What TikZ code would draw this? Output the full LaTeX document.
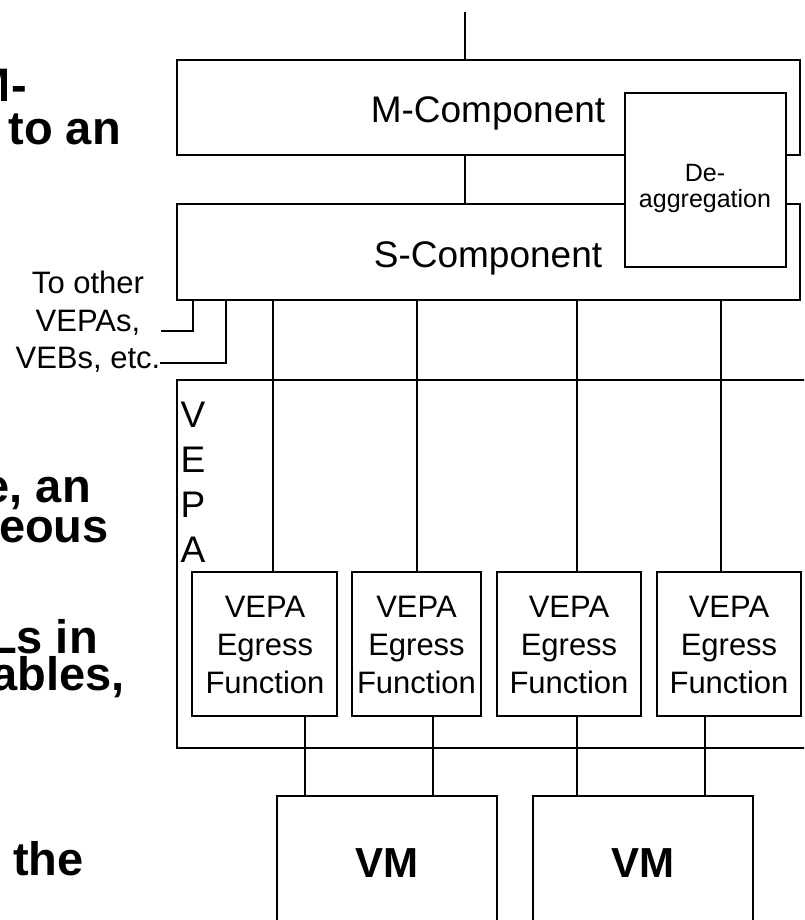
\documentclass[tikz,border=0pt]{standalone}
\usepackage{fontspec}
\setmainfont{Liberation Sans}
\usetikzlibrary{calc}
\begin{document}
\begin{tikzpicture}[x=1pt,y=-1pt,
  box/.style={draw,line width=2.5pt,inner sep=0pt,outer sep=0pt,anchor=north west},
  wire/.style={line width=2.5pt},
  txt/.style={inner sep=0pt,anchor=base},
  bigtxt/.style={txt,font=\fontsize{37}{44}\selectfont},
  midtxt/.style={txt,font=\fontsize{31}{37}\selectfont},
  smalltxt/.style={txt,font=\fontsize{25}{30}\selectfont},
  vmtxt/.style={txt,font=\bfseries\fontsize{42}{50}\selectfont},
  bgtxt/.style={inner sep=0pt,anchor=base east,font=\bfseries\fontsize{47}{47}\selectfont}]
\useasboundingbox (0,0) rectangle (804,920);
\fill[white] (0,0) rectangle (804,920);
\clip (0,0) rectangle (804,920);

% background bold text fragments
\node[bgtxt] (b1) at (27,102) {M-};
\node[bgtxt] (b2) at (121,145) {to an};
\node[bgtxt] (b3) at (91,502) {e, an};
\node[bgtxt] (b4) at (109,542) {eous};
\node[bgtxt] (b5) at (98,653) {Ls in};
\node[bgtxt] (b6) at (125,690) {tables,};
\node[bgtxt] (b7) at (84,875) {the};

% M and S components
\node[box,minimum width=623pt,minimum height=95pt] (mbox) at (177,60) {};
\node[box,minimum width=623pt,minimum height=96pt] (sbox) at (177,204) {};
\node[box,fill=white,minimum width=161pt,minimum height=174pt] (dbox) at (625,93) {};
\node[bigtxt] (mtxt) at (488,123) {M-Component};
\node[bigtxt] (stxt) at (488,267) {S-Component};
\node[smalltxt] (dtxt1) at (705,182) {De-};
\node[smalltxt] (dtxt2) at (705,207) {aggregation};

\coordinate (topend) at (465,12);
\draw[wire] (topend) -- (topend |- mbox.north);
\draw[wire] (mbox.south -| topend) -- (sbox.north -| topend);

% to other VEPAs
\node[midtxt] (o1) at (88,293) {To other};
\node[midtxt] (o2) at (88,331) {VEPAs,};
\node[midtxt] (o3) at (88,368) {VEBs, etc.};
\coordinate (oe1) at (161,331);
\coordinate (oe2) at (160,363);
\coordinate (os1) at ([xshift=16pt]sbox.south west);
\coordinate (os2) at ([xshift=49pt]sbox.south west);
\draw[wire] (os1) |- (oe1);
\draw[wire] (os2) |- (oe2);

% VEPA box
\node[box,minimum width=680pt,minimum height=368pt] (vepa) at (177,380) {};
\node[bigtxt] (v1) at (193,427) {V};
\node[bigtxt] (v2) at (193,472) {E};
\node[bigtxt] (v3) at (193,517) {P};
\node[bigtxt] (v4) at (193,562) {A};

% egress boxes
\node[box,fill=white,minimum width=145pt,minimum height=144pt] (e1) at (192,572) {};
\node[box,fill=white,minimum width=129pt,minimum height=144pt] (e2) at (352,572) {};
\node[box,fill=white,minimum width=144pt,minimum height=144pt] (e3) at (497,572) {};
\node[box,fill=white,minimum width=144pt,minimum height=144pt] (e4) at (657,572) {};
\foreach \n/\x in {1/265,2/416.5,3/569,4/729}{
  \node[midtxt] (e\n a) at (\x,617) {VEPA};
  \node[midtxt] (e\n b) at (\x,655) {Egress};
  \node[midtxt] (e\n c) at (\x,693) {Function};
}

% VMs
\node[box,minimum width=220pt,minimum height=220pt] (vm1) at (277,796) {};
\node[box,minimum width=220pt,minimum height=220pt] (vm2) at (533,796) {};
\node[vmtxt] (vm1t) at (387,877) {VM};
\node[vmtxt] (vm2t) at (643,877) {VM};

% S-component to egress functions
\coordinate (e1t) at ([xshift=81pt]e1.north west);
\coordinate (e2t) at ([xshift=65pt]e2.north west);
\coordinate (e3t) at ([xshift=80pt]e3.north west);
\coordinate (e4t) at ([xshift=64pt]e4.north west);
\foreach \n in {1,2,3,4}{
  \draw[wire] (e\n t |- sbox.south) -- (e\n t);
}

% egress functions to VMs
\coordinate (e1d) at ([xshift=113pt]e1.south west);
\coordinate (e2d) at ([xshift=81pt]e2.south west);
\coordinate (e3d) at ([xshift=80pt]e3.south west);
\coordinate (e4d) at ([xshift=48pt]e4.south west);
\draw[wire] (e1d) -- (e1d |- vm1.north);
\draw[wire] (e2d) -- (e2d |- vm2.north);
\draw[wire] (e3d) -- (e3d |- vm2.north);
\draw[wire] (e4d) -- (e4d |- vm2.north);
\end{tikzpicture}
\end{document}
